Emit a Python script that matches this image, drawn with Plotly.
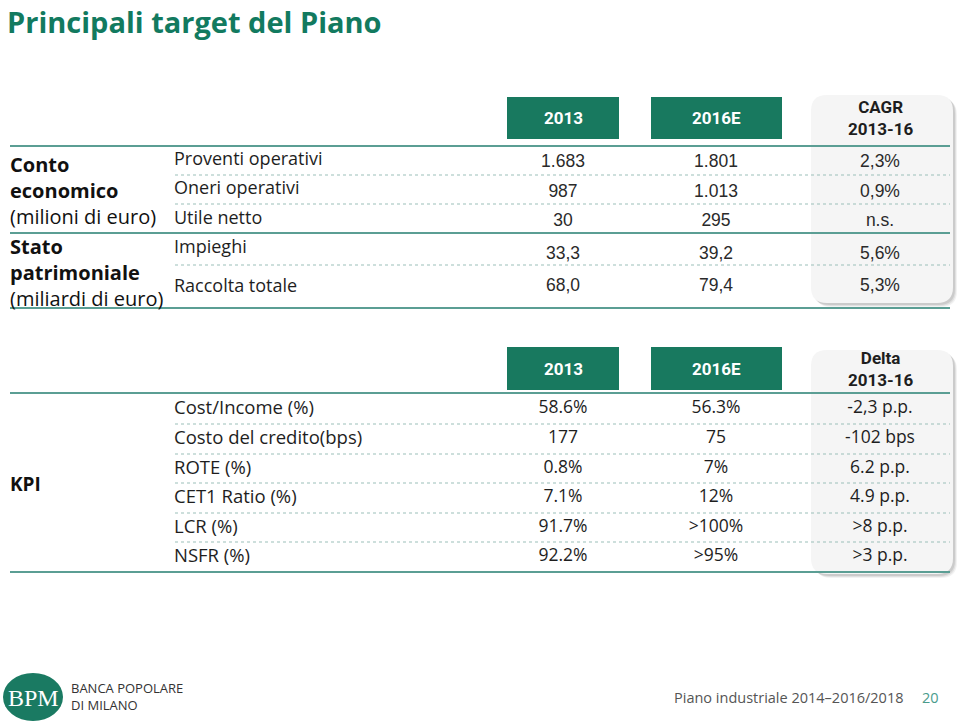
import plotly.graph_objects as go

# ---------------- data ----------------
title_text = "Principali target del Piano"

top_col_headers = ["2013", "2016E"]
top_extra_header = ["CAGR", "2013-16"]
top_categories = ["Proventi operativi", "Oneri operativi", "Utile netto", "Impieghi", "Raccolta totale"]
top_2013 = ["1.683", "987", "30", "33,3", "68,0"]
top_2016 = ["1.801", "1.013", "295", "39,2", "79,4"]
top_cagr = ["2,3%", "0,9%", "n.s.", "5,6%", "5,3%"]
top_groups = [["Conto", "economico", "(milioni di euro)"],
              ["Stato", "patrimoniale", "(miliardi di euro)"]]

kpi_col_headers = ["2013", "2016E"]
kpi_extra_header = ["Delta", "2013-16"]
kpi_group = "KPI"
kpi_categories = ["Cost/Income (%)", "Costo del credito(bps)", "ROTE (%)",
                  "CET1 Ratio (%)", "LCR (%)", "NSFR (%)"]
kpi_2013 = ["58.6%", "177", "0.8%", "7.1%", "91.7%", "92.2%"]
kpi_2016 = ["56.3%", "75", "7%", "12%", ">100%", ">95%"]
kpi_delta = ["-2,3 p.p.", "-102 bps", "6.2 p.p.", "4.9 p.p.", ">8 p.p.", ">3 p.p."]

footer_text = "Piano industriale 2014\u20132016/2018"
page_no = "20"
bank_name = ["BANCA POPOLARE", "DI MILANO"]

# ---------------- style / layout ----------------
W, H = 959, 725
GREEN = "#127a5f"
BOX = "#18795f"
TEAL = "#5b9e94"
DOT = "#9cc0ba"
TXT = "#1e1e1e"
GOTHIC = "Open Sans, Lato, sans-serif"
ARIAL = "Liberation Sans, Arial, sans-serif"
COND = "Roboto, Liberation Sans Narrow, sans-serif"

col_x = [563, 716, 880]
label_x = 174

top_label_y = [160, 189, 219, 248, 287]
top_value_y = [163, 193, 222, 255, 287]
kpi_row_y = [409, 439, 469, 498, 528, 557]

fig = go.Figure()
shapes = []
annotations = []


def rounded(x0, y0, x1, y1, r):
    return (f"M {x0+r},{y0} L {x1-r},{y0} Q {x1},{y0} {x1},{y0+r} "
            f"L {x1},{y1-r} Q {x1},{y1} {x1-r},{y1} L {x0+r},{y1} "
            f"Q {x0},{y1} {x0},{y1-r} L {x0},{y0+r} Q {x0},{y0} {x0+r},{y0} Z")


def panel(y0, y1):
    for i, c in enumerate(["rgba(0,0,0,0.05)", "rgba(0,0,0,0.07)", "rgba(0,0,0,0.09)"]):
        off = 4 - i
        shapes.append(dict(type="path", path=rounded(811 + off, y0 + off, 953 + off, y1 + off, 16),
                           fillcolor=c, line=dict(width=0), layer="below"))
    shapes.append(dict(type="path", path=rounded(811, y0, 953, y1, 16),
                       fillcolor="#f5f5f5", line=dict(width=0), layer="below"))


def header_boxes(y0, y1, headers, extra, extra_y):
    for (x0, x1), h in zip([(507, 619), (651, 782)], headers):
        shapes.append(dict(type="rect", x0=x0, x1=x1, y0=y0, y1=y1,
                           fillcolor=BOX, line=dict(width=0), layer="below"))
        annotations.append(dict(x=(x0 + x1) / 2, y=(y0 + y1) / 2, text=f"<b>{h}</b>",
                                showarrow=False, font=dict(family=COND, size=17, color="white"),
                                xanchor="center", yanchor="middle"))
    annotations.append(dict(x=col_x[2], y=extra_y, text=f"<b>{extra[0]}</b><br><b>{extra[1]}</b>",
                            showarrow=False, font=dict(family=COND, size=17, color=TXT),
                            xanchor="center", yanchor="middle", align="center"))


def hline(y, x0, x1, solid=True):
    if solid:
        shapes.append(dict(type="line", x0=x0, x1=x1, y0=y, y1=y,
                           line=dict(color=TEAL, width=2.2)))
    else:
        shapes.append(dict(type="line", x0=x0, x1=x1, y0=y, y1=y,
                           line=dict(color=DOT, width=1.1, dash="dot")))


# ----- top table -----
panel(95, 303)
header_boxes(97, 139, top_col_headers, top_extra_header, 118)
hline(146, 10, 950)
hline(175, 175, 950, False)
hline(204, 175, 950, False)
hline(233, 10, 950)
hline(265, 175, 950, False)
hline(308, 10, 950)

group_center_y = [190, 272]
for grp, cy in zip(top_groups, group_center_y):
    txt = f"<b>{grp[0]}</b><br><b>{grp[1]}</b><br>{grp[2]}"
    annotations.append(dict(x=8, y=cy, text=txt, showarrow=False, xanchor="left",
                            yanchor="middle", align="left",
                            font=dict(family=GOTHIC, size=20, color="#111")))

fig.add_trace(go.Scatter(x=[label_x] * len(top_categories), y=top_label_y, text=top_categories,
                         mode="text", textposition="middle right",
                         textfont=dict(family=GOTHIC, size=18, color=TXT), hoverinfo="skip"))
for cx, vals in zip(col_x, [top_2013, top_2016, top_cagr]):
    fig.add_trace(go.Scatter(x=[cx] * len(vals), y=top_value_y, text=vals, mode="text",
                             textposition="middle center",
                             textfont=dict(family=ARIAL, size=17.5, color="#2a2a2a"),
                             hoverinfo="skip"))

# ----- KPI table -----
panel(350, 574)
header_boxes(347, 390, kpi_col_headers, kpi_extra_header, 369)
hline(393, 10, 950)
for y in [424, 454, 483, 513, 542]:
    hline(y, 175, 950, False)
hline(572, 10, 950)

annotations.append(dict(x=8, y=484, text=f"<b>{kpi_group}</b>", showarrow=False, xanchor="left",
                        yanchor="middle", font=dict(family=GOTHIC, size=19, color="#111")))
fig.add_trace(go.Scatter(x=[label_x] * len(kpi_categories), y=kpi_row_y, text=kpi_categories,
                         mode="text", textposition="middle right",
                         textfont=dict(family=GOTHIC, size=18.5, color=TXT), hoverinfo="skip"))
for cx, vals in zip(col_x, [kpi_2013, kpi_2016, kpi_delta]):
    fig.add_trace(go.Scatter(x=[cx] * len(vals), y=kpi_row_y, text=vals, mode="text",
                             textposition="middle center",
                             textfont=dict(family=GOTHIC, size=17.5, color=TXT), hoverinfo="skip"))

# ----- title -----
annotations.append(dict(x=5, y=21, text=f"<b>{title_text}</b>", showarrow=False, xanchor="left",
                        yanchor="middle", font=dict(family=GOTHIC, size=29, color=GREEN)))

# ----- footer -----
shapes.append(dict(type="circle", x0=3, x1=63, y0=673, y1=721, fillcolor="#1a7a62",
                   line=dict(width=0)))
annotations.append(dict(x=33, y=698, text="BPM", showarrow=False, xanchor="center",
                        yanchor="middle",
                        font=dict(family="Liberation Serif, serif", size=24, color="white")))
annotations.append(dict(x=69, y=696, text=f"{bank_name[0]}<br>{bank_name[1]}", showarrow=False,
                        xanchor="left", yanchor="middle", align="left",
                        font=dict(family=GOTHIC, size=13, color="#333")))
annotations.append(dict(x=906, y=697, text=footer_text, showarrow=False, xanchor="right",
                        yanchor="middle", font=dict(family=GOTHIC, size=14.5, color="#555")))
annotations.append(dict(x=930, y=697, text=page_no, showarrow=False, xanchor="center",
                        yanchor="middle", font=dict(family=GOTHIC, size=14.5, color="#4a9c8c")))

fig.update_layout(
    width=W, height=H, margin=dict(l=0, r=0, t=0, b=0),
    paper_bgcolor="white", plot_bgcolor="white", showlegend=False,
    xaxis=dict(range=[0, W], visible=False, fixedrange=True),
    yaxis=dict(range=[H, 0], visible=False, fixedrange=True),
    shapes=shapes, annotations=annotations,
)

fig.write_html("out.html", config={"displayModeBar": False},
               post_script="document.body.style.margin='0';document.body.style.overflow='hidden';")
